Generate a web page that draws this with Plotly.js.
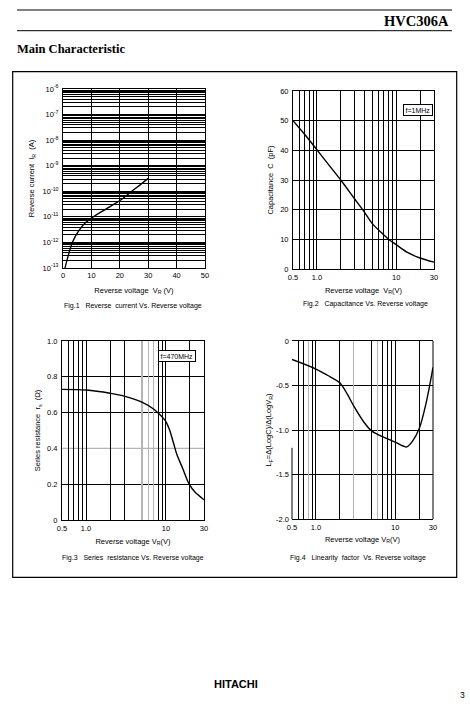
<!DOCTYPE html>
<html>
<head>
<meta charset="utf-8">
<script src="https://cdn.plot.ly/plotly-3.0.1.min.js"></script>
<style>
html,body{margin:0;padding:0;background:#fff;}
#chart{width:470px;height:707px;}
</style>
</head>
<body>
<div id="chart"></div>
<script>
// ---------------- data ----------------
const fig1Voltage = [0.7, 1.9, 3.3, 5.4, 7.7, 10, 13.6, 17.1, 20.7, 24.2, 27.7, 30];
const fig1Current = [1e-13, 3.2e-13, 1e-12, 2.7e-12, 5.6e-12, 8.9e-12, 1.6e-11, 2.75e-11, 4.9e-11, 1e-10, 2.0e-10, 3.2e-10];

const fig2Voltage = [0.5, 0.7, 1.0, 1.42, 2, 3, 4, 5, 7, 8, 10, 14.3, 20, 30];
const fig2Capacitance = [50, 45.4, 40.2, 35, 30, 23.6, 19.1, 15.3, 11.5, 10, 8.2, 5.4, 3.7, 2.3];

const fig3Voltage = [0.5, 1.0, 2, 3, 5, 7, 8, 9, 10, 11.1, 12.5, 13.7, 16.2, 19.6, 23.1, 30];
const fig3Resistance = [0.73, 0.726, 0.708, 0.692, 0.658, 0.620, 0.598, 0.575, 0.55, 0.504, 0.427, 0.367, 0.289, 0.2, 0.156, 0.113];

const fig4Voltage = [0.5, 1.0, 1.5, 2, 2.5, 3, 4, 5, 6, 10, 12.6, 14, 16.5, 20, 24.5, 30];
const fig4Linearity = [-0.208, -0.315, -0.40, -0.469, -0.60, -0.73, -0.907, -1.007, -1.05, -1.135, -1.18, -1.19, -1.128, -0.99, -0.70, -0.296];

// tick labels and grid values
const fig1XTicks = [0, 10, 20, 30, 40, 50];
const fig1YExponents = [-13, -12, -11, -10, -9, -8, -7, -6];
const logXLabelVals = [0.5, 1, 10, 30];
const logXLabelText = ['0.5', '1.0', '10', '30'];
const logXGridVals = [0.6, 0.7, 0.8, 0.9, 2, 3, 4, 5, 6, 7, 8, 9, 20];
const fig2YTicks = [0, 10, 20, 30, 40, 50, 60];
const fig3YTicks = [0, 0.2, 0.4, 0.6, 0.8, 1.0];
const fig3YText = ['0', '0.2', '0.4', '0.6', '0.8', '1.0'];
const fig3XGray = [5, 6, 7];
const fig3XMissing = [4];
const fig3YGray = [0.4];
const fig4YTicks = [-2, -1.5, -1, -0.5, 0];
const fig4YText = ['-2.0', '-1.5', '-1.0', '-0.5', '0'];
const fig4XGray = [0.8, 3, 6];
const fig4XMissing = [4];

// ---------------- helpers ----------------
const W = 470, H = 707;
const F = 'Liberation Sans, Arial, sans-serif';
const SERIF = 'Liberation Serif, Times New Roman, serif';
const GRAY = '#b4b4b4';
const px = v => v / W;
const py = v => 1 - v / H;
const domX = (a, b) => [px(a), px(b)];
const domY = (top, bottom) => [py(bottom), py(top)];
const LOGRANGE = [Math.log10(0.5), Math.log10(30)];

const fig1YMinor = [];
fig1YExponents.slice(0, -1).forEach(e => {
  for (let m = 2; m <= 9; m++) fig1YMinor.push(m * Math.pow(10, e));
});

const tickFont = {family: F, size: 7.5, color: '#000'};
const titleFont = {family: F, size: 7.5, color: '#000'};

function axis(extra) {
  return Object.assign({
    showline: true, mirror: true, linecolor: '#000', linewidth: 1,
    showgrid: true, gridcolor: '#000', gridwidth: 1,
    zeroline: false, ticks: '', tickfont: tickFont, fixedrange: true
  }, extra);
}
function blackMinor(vals) {
  return {tickmode: 'array', tickvals: vals, showgrid: true, gridcolor: '#000', gridwidth: 1, ticks: ''};
}
function grayOverlay(over, anchor, domain, vals) {
  return {
    overlaying: over, anchor: anchor, domain: domain, type: 'log', range: LOGRANGE,
    tickmode: 'array', tickvals: vals, showticklabels: false, ticks: '',
    showgrid: true, gridcolor: GRAY, gridwidth: 1.3, showline: false, zeroline: false, fixedrange: true
  };
}

const line = {color: '#000', width: 1.4, shape: 'spline', smoothing: 1};

const traces = [
  {x: fig1Voltage, y: fig1Current, xaxis: 'x', yaxis: 'y', mode: 'lines', line: line, hoverinfo: 'skip', name: 'Fig.1'},
  {x: fig2Voltage, y: fig2Capacitance, xaxis: 'x2', yaxis: 'y2', mode: 'lines', line: line, hoverinfo: 'skip', name: 'Fig.2'},
  {x: [], y: [], xaxis: 'x5', yaxis: 'y3', mode: 'lines', hoverinfo: 'skip', showlegend: false},
  {x: [], y: [], xaxis: 'x6', yaxis: 'y4', mode: 'lines', hoverinfo: 'skip', showlegend: false},
  {x: fig3Voltage, y: fig3Resistance, xaxis: 'x3', yaxis: 'y3', mode: 'lines', line: line, hoverinfo: 'skip', name: 'Fig.3'},
  {x: fig4Voltage, y: fig4Linearity, xaxis: 'x4', yaxis: 'y4', mode: 'lines', line: line, hoverinfo: 'skip', name: 'Fig.4'}
];

const d3x = domX(62, 204), d4x = domX(292, 433);

const layout = {
  width: W, height: H,
  margin: {l: 0, r: 0, t: 0, b: 0},
  paper_bgcolor: '#fff', plot_bgcolor: 'rgba(0,0,0,0)',
  showlegend: false,
  font: {family: F, color: '#000'},
  title: {
    text: '<b>Main Characteristic</b>',
    x: px(17), xanchor: 'left', y: py(49), yanchor: 'middle',
    font: {family: SERIF, size: 12.5, color: '#000'}
  },
  // Fig.1
  xaxis: axis({
    domain: domX(63, 205), anchor: 'y', range: [0, 50],
    tickvals: fig1XTicks, ticktext: fig1XTicks.map(String),
    title: {text: 'Reverse voltage  V<sub>R</sub> (V)', font: titleFont, standoff: 8}
  }),
  yaxis: axis({
    domain: domY(89, 268), anchor: 'x', type: 'log', range: [-13, -6],
    tickvals: fig1YExponents.map(e => Math.pow(10, e)),
    ticktext: fig1YExponents.map(e => '10<sup>' + e + '</sup>'),
    minor: blackMinor(fig1YMinor), ticklabelstandoff: 2,
    title: {text: 'Reverse current  I<sub>R</sub>  (A)', font: titleFont, standoff: 6}
  }),
  // Fig.2
  xaxis2: axis({
    domain: domX(293, 434), anchor: 'y2', type: 'log', range: LOGRANGE,
    tickvals: logXLabelVals, ticktext: logXLabelText,
    minor: blackMinor(logXGridVals), ticklabelstandoff: 1,
    title: {text: 'Reverse voltage  V<sub>R</sub>(V)', font: titleFont, standoff: 6}
  }),
  yaxis2: axis({
    domain: domY(91, 269), anchor: 'x2', range: [0, 60],
    tickvals: fig2YTicks, ticktext: fig2YTicks.map(String), ticklabelstandoff: 2,
    title: {text: 'Capacitance  C  (pF)', font: titleFont, standoff: 5}
  }),
  // Fig.3
  xaxis3: axis({
    domain: d3x, anchor: 'y3', type: 'log', range: LOGRANGE,
    tickvals: logXLabelVals, ticktext: logXLabelText, ticklabelstandoff: 1,
    minor: blackMinor(logXGridVals.filter(v => !fig3XGray.includes(v) && !fig3XMissing.includes(v))),
    title: {text: 'Reverse voltage V<sub>R</sub>(V)', font: titleFont, standoff: 6}
  }),
  xaxis5: grayOverlay('x3', 'y3', d3x, fig3XGray),
  yaxis3: axis({
    domain: domY(341, 520), anchor: 'x3', range: [0, 1],
    tickvals: fig3YTicks, ticktext: fig3YText, showgrid: false, ticklabelstandoff: 2,
    minor: blackMinor(fig3YTicks.filter(v => v > 0 && v < 1 && !fig3YGray.includes(v))),
    title: {text: 'Series resistance  r<sub>s</sub>  (\u03A9)', font: titleFont, standoff: 5}
  }),
  // Fig.4
  xaxis4: axis({
    domain: d4x, anchor: 'y4', type: 'log', range: LOGRANGE,
    tickvals: logXLabelVals, ticktext: logXLabelText, ticklabelstandoff: 1,
    minor: blackMinor(logXGridVals.filter(v => !fig4XGray.includes(v) && !fig4XMissing.includes(v))),
    title: {text: 'Reverse voltage V<sub>R</sub>(V)', font: titleFont, standoff: 5}
  }),
  xaxis6: grayOverlay('x4', 'y4', d4x, fig4XGray),
  yaxis4: axis({
    domain: domY(341, 519), anchor: 'x4', range: [-2, 0],
    tickvals: fig4YTicks, ticktext: fig4YText, showline: false, ticklabelstandoff: 2,
    title: {text: 'L<sub>F</sub>=\u0394(LogC)/\u0394(LogV<sub>R</sub>)', font: titleFont, standoff: 3}
  }),
  shapes: [
    {type: 'line', xref: 'paper', yref: 'paper', x0: px(17), x1: px(452), y0: py(10), y1: py(10), line: {color: '#000', width: 1}},
    {type: 'line', xref: 'paper', yref: 'paper', x0: px(17), x1: px(452), y0: py(30.7), y1: py(30.7), line: {color: '#000', width: 1}},
    {type: 'rect', xref: 'paper', yref: 'paper', x0: px(12.7), x1: px(456.7), y0: py(577.3), y1: py(71.7), line: {color: '#000', width: 1.2}},
    {type: 'line', xref: 'x3 domain', yref: 'y3', x0: 0, x1: 1, y0: fig3YGray[0], y1: fig3YGray[0], layer: 'below', line: {color: GRAY, width: 1.3}},
    {type: 'line', xref: 'x4 domain', yref: 'y4 domain', x0: 1, x1: 1, y0: 0, y1: 1, line: {color: '#000', width: 1}},
    {type: 'line', xref: 'x4 domain', yref: 'y4', x0: 0, x1: 0, y0: -2, y1: -1.2, line: {color: '#000', width: 1}}
  ],
  annotations: [
    {xref: 'paper', yref: 'paper', x: px(451), y: py(21), xanchor: 'right', yanchor: 'middle', showarrow: false,
     text: '<b>HVC306A</b>', font: {family: SERIF, size: 14.5, color: '#000'}},
    {xref: 'x2 domain', yref: 'y2 domain', x: 1 - 1.5 / 141, y: 1 - 13 / 178, xanchor: 'right', yanchor: 'top', showarrow: false,
     text: 'f=1MHz', font: {family: F, size: 7, color: '#000'}, bordercolor: '#000', borderwidth: 1, borderpad: 1.5, bgcolor: '#fff'},
    {xref: 'x3 domain', yref: 'y3 domain', x: 1 - 8 / 142, y: 1 - 9 / 179, xanchor: 'right', yanchor: 'top', showarrow: false,
     text: 'f=470MHz', font: {family: F, size: 7, color: '#000'}, bordercolor: '#000', borderwidth: 1, borderpad: 1.5, bgcolor: '#fff'},
    {xref: 'paper', yref: 'paper', x: px(132.5), y: py(306), xanchor: 'center', yanchor: 'middle', showarrow: false,
     text: 'Fig.1   Reverse  current Vs. Reverse voltage', font: {family: F, size: 7, color: '#000'}},
    {xref: 'paper', yref: 'paper', x: px(365.5), y: py(304), xanchor: 'center', yanchor: 'middle', showarrow: false,
     text: 'Fig.2   Capacitance Vs. Reverse voltage', font: {family: F, size: 7, color: '#000'}},
    {xref: 'paper', yref: 'paper', x: px(133), y: py(558), xanchor: 'center', yanchor: 'middle', showarrow: false,
     text: 'Fig.3   Series  resistance Vs. Reverse voltage', font: {family: F, size: 7, color: '#000'}},
    {xref: 'paper', yref: 'paper', x: px(358), y: py(558), xanchor: 'center', yanchor: 'middle', showarrow: false,
     text: 'Fig.4   Linearity  factor  Vs. Reverse voltage', font: {family: F, size: 7, color: '#000'}},
    {xref: 'paper', yref: 'paper', x: px(236), y: py(684), xanchor: 'center', yanchor: 'middle', showarrow: false,
     text: '<b>HITACHI</b>', font: {family: F, size: 11, color: '#000'}},
    {xref: 'paper', yref: 'paper', x: px(462), y: py(695), xanchor: 'center', yanchor: 'middle', showarrow: false,
     text: '3', font: {family: F, size: 8.5, color: '#000'}}
  ]
};

Plotly.newPlot('chart', traces, layout, {displayModeBar: false, staticPlot: true});
</script>
</body>
</html>
